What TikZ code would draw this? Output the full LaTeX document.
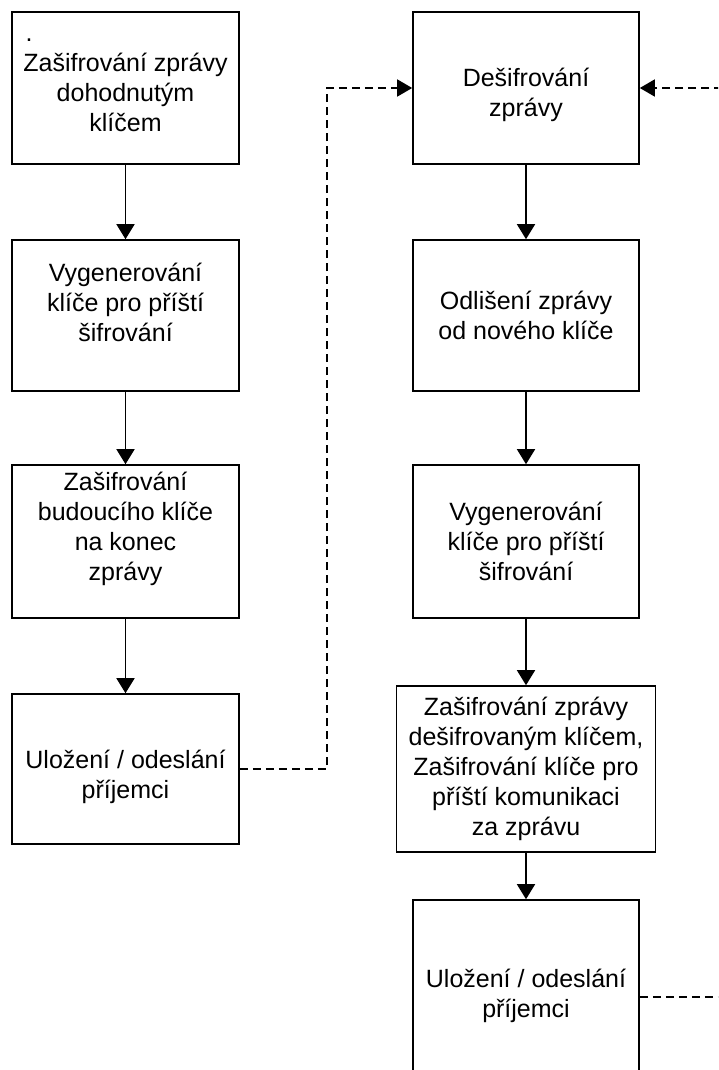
\documentclass[tikz,border=0pt]{standalone}
\usepackage{fontspec}
\setmainfont{Liberation Sans}
\usepackage{tikz}
\usetikzlibrary{arrows.meta}
\tikzset{
  blk/.style={draw, line width=1.6pt, inner sep=0pt, align=center,
    font=\fontsize{25}{30}\selectfont},
  flw/.style={-{Triangle[length=15pt,width=18pt]}, line width=1.6pt},
  dsh/.style={-{Triangle[length=15pt,width=17pt]}, line width=1.6pt, dash pattern=on 8pt off 5pt},
}
\begin{document}
\begin{tikzpicture}[x=1pt,y=-1pt]
  \clip (0,0) rectangle (718,1070);
  % left column
  \node[blk, minimum width=227pt, minimum height=152pt] (L1) at (125.5,88)
    {\makebox[200pt][l]{.}\\Zašifrování zprávy\\dohodnutým\\klíčem\\[-24pt]};
  \node[blk, minimum width=227pt, minimum height=151pt] (L2) at (125.5,315.5)
    {Vygenerování\\klíče pro příští\\šifrování\\[-4pt]};
  \node[blk, minimum width=227pt, minimum height=153pt] (L3) at (125.5,541.5)
    {Zašifrování\\budoucího klíče\\na konec\\ zprávy\\[0pt]};
  \node[blk, minimum width=227pt, minimum height=150pt] (L4) at (125.5,769)
    {Uložení / odeslání\\příjemci\\[-40pt]};
  % right column
  \node[blk, minimum width=226pt, minimum height=152pt] (R1) at (526,88)
    {Dešifrování\\zprávy\\[-38pt]};
  \node[blk, minimum width=226pt, minimum height=151pt] (R2) at (526,315.5)
    {Odlišení zprávy\\od nového klíče};
  \node[blk, minimum width=226pt, minimum height=153pt] (R3) at (526,541.5)
    {Vygenerování\\klíče pro příští\\šifrování};
  \node[blk, minimum width=259pt, minimum height=166pt] (R4) at (526,769)
    {Zašifrování zprávy\\dešifrovaným klíčem,\\Zašifrování klíče pro\\příští komunikaci\\ za zprávu};
  \node[blk, minimum width=226pt, minimum height=194pt] (R5) at (526,997)
    {Uložení / odeslání\\příjemci\\[-22pt]};
  % flow arrows
  \draw[flw] (L1) -- (L2);
  \draw[flw] (L2) -- (L3);
  \draw[flw] (L3) -- (L4);
  \draw[flw] (R1) -- (R2);
  \draw[flw] (R2) -- (R3);
  \draw[flw] (R3) -- (R4);
  \draw[flw] (R4) -- (R5);
  % dashed links
  \coordinate (bend) at (327,769);
  \coordinate (inR) at (722,88);
  \coordinate (outR) at (722,997);
  \draw[dsh] (L4.east) -- (bend) |- (R1.west);
  \draw[dsh] (inR) -- (R1.east);
  \draw[dsh,-] (R5.east) -- (outR);
\end{tikzpicture}
\end{document}
